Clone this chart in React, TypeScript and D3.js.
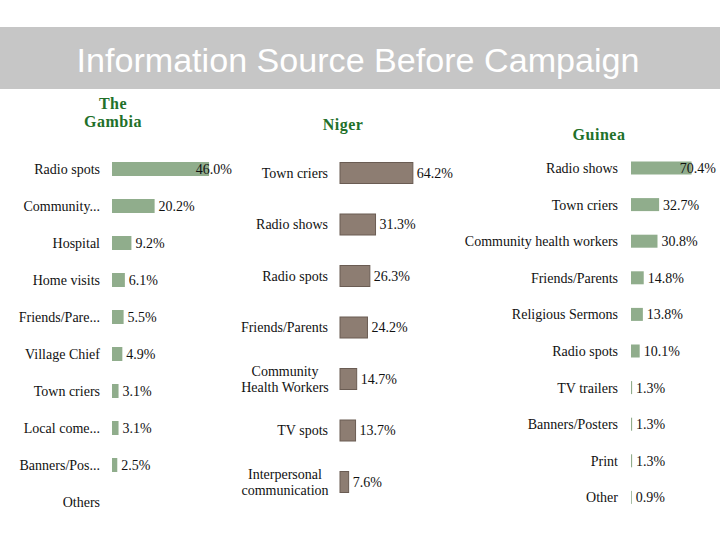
import React, { useEffect, useRef } from 'react'
import * as d3 from 'd3'

const W = 720
const H = 540
const SERIF = "'Liberation Serif', 'Times New Roman', serif"
const SANS = "'Liberation Sans', Arial, sans-serif"

const gambiaLabels = ['Radio spots', 'Community...', 'Hospital', 'Home visits', 'Friends/Pare...', 'Village Chief', 'Town criers', 'Local come...', 'Banners/Pos...', 'Others']
const gambiaValues: (number | null)[] = [46.0, 20.2, 9.2, 6.1, 5.5, 4.9, 3.1, 3.1, 2.5, null]

const nigerLabels = ['Town criers', 'Radio shows', 'Radio spots', 'Friends/Parents', 'Community\nHealth Workers', 'TV spots', 'Interpersonal\ncommunication']
const nigerValues = [64.2, 31.3, 26.3, 24.2, 14.7, 13.7, 7.6]

const guineaLabels = ['Radio shows', 'Town criers', 'Community health workers', 'Friends/Parents', 'Religious Sermons', 'Radio spots', 'TV trailers', 'Banners/Posters', 'Print', 'Other']
const guineaValues = [70.4, 32.7, 30.8, 14.8, 13.8, 10.1, 1.3, 1.3, 1.3, 0.9]

type Panel = {
  title: string[]
  titleX: number
  titleY: number
  labels: string[]
  values: (number | null)[]
  x0: number
  pxPer100: number
  yStart: number
  step: number
  barH: number
  labelX: number
  multiX: number
  valueMax: number
  fill: string
  stroke: string
}

const panels: Panel[] = [
  {
    title: ['The', 'Gambia'], titleX: 113, titleY: 109,
    labels: gambiaLabels, values: gambiaValues,
    x0: 112, pxPer100: 211, yStart: 150.5, step: 37, barH: 14,
    labelX: 100, multiX: 60, valueMax: 232, fill: '#90ad8c', stroke: 'none',
  },
  {
    title: ['Niger'], titleX: 343, titleY: 130,
    labels: nigerLabels, values: nigerValues,
    x0: 340, pxPer100: 113.5, yStart: 147.25, step: 51.5, barH: 21,
    labelX: 328, multiX: 285, valueMax: 720, fill: '#8d7d72', stroke: '#6a5c53',
  },
  {
    title: ['Guinea'], titleX: 599, titleY: 140,
    labels: guineaLabels, values: guineaValues,
    x0: 631, pxPer100: 86, yStart: 149.7, step: 36.6, barH: 13,
    labelX: 618, multiX: 560, valueMax: 716, fill: '#90ad8c', stroke: 'none',
  },
]

export default function App() {
  const ref = useRef<SVGSVGElement | null>(null)

  useEffect(() => {
    if (!ref.current) return
    const svg = d3.select(ref.current)
    svg.selectAll('*').remove()

    svg.append('rect').attr('width', W).attr('height', H).attr('fill', '#ffffff')

    // title band
    svg.append('rect').attr('x', 0).attr('y', 27).attr('width', W).attr('height', 62).attr('fill', '#c6c6c6')
    svg.append('text')
      .attr('x', 358).attr('y', 72)
      .attr('text-anchor', 'middle')
      .style('font-family', SANS)
      .style('font-size', '33px')
      .attr('textLength', 563)
      .attr('lengthAdjust', 'spacingAndGlyphs')
      .attr('fill', '#ffffff')
      .text('Information Source Before Campaign')

    panels.forEach((p) => {
      const n = p.labels.length
      const y = d3.scaleBand<string>()
        .domain(p.labels)
        .range([p.yStart, p.yStart + n * p.step])
        .paddingInner(1 - p.barH / p.step)
        .paddingOuter((1 - p.barH / p.step) / 2)
      const x = d3.scaleLinear().domain([0, 100]).range([p.x0, p.x0 + p.pxPer100])

      const g = svg.append('g')

      const title = g.append('text')
        .attr('x', p.titleX).attr('y', p.titleY)
        .attr('text-anchor', 'middle')
        .style('font-family', SERIF)
        .style('font-weight', 'bold')
        .style('font-size', '16px')
        .style('letter-spacing', '0.5px')
        .attr('fill', '#22702a')
      p.title.forEach((t, i) => {
        title.append('tspan').attr('x', p.titleX).attr('dy', i === 0 ? 0 : 18).text(t)
      })

      p.labels.forEach((lab, i) => {
        const cy = (y(lab) || 0) + y.bandwidth() / 2
        const lines = lab.split('\n')
        const t = g.append('text')
          .style('font-family', SERIF)
          .style('font-size', '14px')
          .attr('fill', '#111111')
        if (lines.length === 1) {
          t.attr('x', p.labelX).attr('y', cy).attr('dy', '0.35em').attr('text-anchor', 'end').text(lab)
        } else {
          t.attr('text-anchor', 'middle')
          lines.forEach((ln, j) => {
            t.append('tspan')
              .attr('x', p.multiX)
              .attr('y', cy + (j - (lines.length - 1) / 2) * 16.7)
              .attr('dy', '0.35em')
              .text(ln)
          })
        }

        const v = p.values[i]
        if (v == null) return
        g.append('rect')
          .attr('x', x(0))
          .attr('y', y(lab) || 0)
          .attr('width', Math.max(0.8, x(v) - x(0)))
          .attr('height', y.bandwidth())
          .attr('fill', p.fill)
          .attr('stroke', p.stroke)
          .attr('stroke-width', 1)

        const vt = g.append('text')
          .attr('y', cy).attr('dy', '0.35em')
          .style('font-family', SERIF)
          .style('font-size', '14px')
          .attr('fill', '#111111')
          .text(`${v.toFixed(1)}%`)
        const tw = (vt.node() as SVGTextElement).getComputedTextLength()
        vt.attr('x', Math.min(x(v) + 4, p.valueMax - tw))
      })
    })
  }, [])

  return (
    <svg
      ref={ref}
      width={W}
      height={H}
      style={{ position: 'absolute', left: 0, top: 0, display: 'block' }}
    />
  )
}
